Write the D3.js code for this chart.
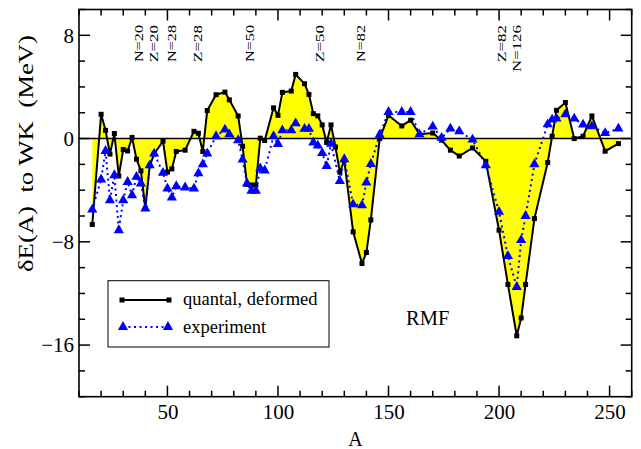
<!DOCTYPE html>
<html><head><meta charset="utf-8">
<script src="https://cdn.jsdelivr.net/npm/d3@7"></script>
<style>
body{margin:0;background:#fff;}
svg{display:block;}
svg text{font-family:"Liberation Serif","Times New Roman",serif !important;fill:#000;}
</style></head>
<body><div id="chart"></div>
<script>
// ---- data ----
const quantalA = [16,20,22,24,26,28,30,32,34,36,38,40,42,44,48,50,52,54,58,62,64,66,68,72,76,78,82,84,86,88,90,92,94,98,100,102,106,108,112,114,116,118,120,122,124,126,128,130,134,138,140,142,146,150,156,160,164,170,174,178,182,188,194,200,204,208,210,212,216,222,224,226,230,234,238,242,248,254];
const quantalE = [-6.66,1.88,0.64,-1.2,0.39,-2.9,-0.85,-0.96,0.08,-1.6,-2.5,-5.4,-2.1,-1.2,-0.2,-2.6,-2.35,-1.0,-0.9,0.56,0.41,-1.0,2.17,3.4,3.6,3.0,1.75,-0.6,-3.55,-3.6,-3.6,0.03,-0.15,2.38,1.8,3.58,3.68,4.97,4.25,3.42,1.93,1.76,1.06,-0.3,1.06,-0.65,-2.6,-1.7,-7.23,-9.68,-8.83,-6.3,0,1.8,0.98,1.42,0.33,0.43,-0.13,-0.9,-1.35,-0.73,-1.76,-7.1,-11.3,-15.28,-13.9,-11.3,-6.2,-1.86,0.18,2.19,2.79,0,0.18,1.75,-0.98,-0.39];
const expA = [16,20,22,24,26,28,30,32,34,36,38,40,42,44,48,50,52,54,58,62,64,66,68,72,76,78,82,84,86,88,90,92,94,98,100,102,106,108,112,114,116,118,120,122,124,128,130,134,138,140,142,146,150,156,160,164,170,174,178,182,188,194,200,204,208,210,212,216,222,224,226,230,234,238,242,248,254];
const expE = [-5.5,-3.17,-0.96,-4.78,-2.84,-7.1,-4.78,-3.36,-4.39,-2.97,-3.48,-5.42,-2.07,-1.16,-2.66,-3.87,-4.57,-3.69,-3.79,-3.87,-2.7,-2.0,-1.16,0.18,0.7,0.33,-0.13,-1.63,-3.48,-4.05,-4.05,-2.32,-2.47,0.18,-0.42,0.64,0.64,1.18,0.75,0.75,-0.3,-0.55,-1.13,-2.13,-0.4,-3.3,-1.6,-5.1,-5.18,-3.4,-1.97,0.3,2.06,2.06,2.06,0.33,0.93,0.05,0.77,0.56,-0.08,-2.07,-5.68,-9.1,-11.5,-7.87,-6.0,-1.99,1.1,1.47,1.55,1.88,1.55,1.08,0.95,0.43,0.77];
const xMajorTicks = [50,100,150,200,250];
const yMajorTicks = [-16,-8,0,8];
const shellLabels = ["N=20","Z=20","N=28","Z=28","N=50","Z=50","N=82","Z=82","N=126"];
const shellLabelA = [36.8,43.5,51.7,63.8,87.3,118.9,137.4,201,207.7];
const seriesNames = ["quantal, deformed","experiment"];

// ---- layout ----
const W = 641, H = 449;
const m = {left:79, right:641-631.7, top:9.5, bottom:449-396.7};
const iw = W - m.left - m.right, ih = H - m.top - m.bottom;
const SERIF = '"Liberation Serif","Times New Roman",serif';

const svg = d3.select("#chart").append("svg").attr("width",W).attr("height",H)
  .attr("font-family",SERIF);
const g = svg.append("g").attr("transform",`translate(${m.left},${m.top})`);

const x = d3.scaleLinear().domain([10,260]).range([0,iw]);
const y = d3.scaleLinear().domain([-20,10]).range([ih,0]);

const q = quantalA.map((a,i)=>({a, e:quantalE[i]}));
const ex = expA.map((a,i)=>({a, e:expE[i]}));

// fill to zero
g.append("path").datum(q)
  .attr("d", d3.area().x(d=>x(d.a)).y0(y(0)).y1(d=>y(d.e)))
  .attr("fill","#ffff00").attr("stroke","none");

// zero line
g.append("line").attr("x1",0).attr("x2",iw).attr("y1",y(0)).attr("y2",y(0))
  .attr("stroke","#000").attr("stroke-width",1.6);

// quantal line
g.append("path").datum(q)
  .attr("d", d3.line().x(d=>x(d.a)).y(d=>y(d.e)))
  .attr("fill","none").attr("stroke","#000").attr("stroke-width",2);
g.selectAll("rect.q").data(q).enter().append("rect").attr("class","q")
  .attr("x",d=>x(d.a)-2.5).attr("y",d=>y(d.e)-2.5).attr("width",5).attr("height",5).attr("fill","#000");

// experiment
g.append("path").datum(ex)
  .attr("d", d3.line().x(d=>x(d.a)).y(d=>y(d.e)))
  .attr("fill","none").attr("stroke","#0000ff").attr("stroke-width",2).attr("stroke-dasharray","2,3.5");
const tri = d3.symbol(d3.symbolTriangle, 45);
g.selectAll("path.t").data(ex).enter().append("path").attr("class","t")
  .attr("d",tri).attr("transform",d=>`translate(${x(d.a)},${y(d.e)})`).attr("fill","#0000ff");

// axes ticks
const xMinor = d3.range(10,261,10).filter(v=>!xMajorTicks.includes(v));
const yMinor = d3.range(-20,11,2).filter(v=>!yMajorTicks.includes(v));
function tickLines(vals, len, orient){
  vals.forEach(v=>{
    if(orient==="x"){
      g.append("line").attr("x1",x(v)).attr("x2",x(v)).attr("y1",ih).attr("y2",ih-len).attr("stroke","#000").attr("stroke-width",1.5);
      g.append("line").attr("x1",x(v)).attr("x2",x(v)).attr("y1",0).attr("y2",len).attr("stroke","#000").attr("stroke-width",1.5);
    } else {
      g.append("line").attr("y1",y(v)).attr("y2",y(v)).attr("x1",0).attr("x2",len).attr("stroke","#000").attr("stroke-width",1.5);
      g.append("line").attr("y1",y(v)).attr("y2",y(v)).attr("x1",iw).attr("x2",iw-len).attr("stroke","#000").attr("stroke-width",1.5);
    }
  });
}
tickLines(xMajorTicks,11,"x");
tickLines(xMinor,6,"x");
tickLines(yMajorTicks,11,"y");
tickLines(yMinor,6,"y");

// tick labels via d3 axes (no lines)
const xAxis = g.append("g").attr("transform",`translate(0,${ih})`)
  .call(d3.axisBottom(x).tickValues(xMajorTicks).tickSize(0).tickPadding(7).tickFormat(d3.format("d")));
xAxis.attr("font-family",SERIF).attr("font-size",21);
xAxis.select(".domain").remove();
xAxis.selectAll("text").style("font-family",SERIF).style("font-size","21px");
const yAxis = g.append("g")
  .call(d3.axisLeft(y).tickValues(yMajorTicks).tickSize(0).tickPadding(5).tickFormat(d3.format("d")));
yAxis.attr("font-family",SERIF).attr("font-size",21);
yAxis.select(".domain").remove();
yAxis.selectAll("text").style("font-family",SERIF).style("font-size","21px");

// frame
g.append("rect").attr("x",0).attr("y",0).attr("width",iw).attr("height",ih)
  .attr("fill","none").attr("stroke","#000").attr("stroke-width",1.6);

// shell labels
shellLabels.forEach((t,i)=>{
  const len = t.length===5 ? 47 : 37;
  g.append("text").attr("transform",`translate(${x(shellLabelA[i])+4.5},${25-m.top}) rotate(-90)`)
   .attr("text-anchor","end").style("font-family",SERIF).style("font-size","13px")
   .attr("textLength",len).attr("lengthAdjust","spacingAndGlyphs").text(t);
});

// axis titles
svg.append("text").attr("x",355.5).attr("y",446).attr("text-anchor","middle").style("font-size","20px").text("A");
svg.append("text").attr("transform","translate(32.5,153.5) rotate(-90)")
  .attr("text-anchor","middle").style("font-size","21px").style("white-space","pre")
  .attr("textLength",237).attr("lengthAdjust","spacingAndGlyphs")
  .text("\u03B4E(A)  to WK  (MeV)");

// RMF
svg.append("text").attr("x",406).attr("y",325).style("font-size","20.5px").text("RMF");

// legend
svg.append("rect").attr("x",108).attr("y",280.7).attr("width",221).attr("height",66.3)
  .attr("fill","#fff").attr("stroke","#000").attr("stroke-width",1);
svg.append("line").attr("x1",122).attr("x2",169).attr("y1",300).attr("y2",300).attr("stroke","#000").attr("stroke-width",2);
[122,169].forEach(px=>svg.append("rect").attr("x",px-2.5).attr("y",297.5).attr("width",5).attr("height",5).attr("fill","#000"));
svg.append("line").attr("x1",123).attr("x2",168).attr("y1",327).attr("y2",327).attr("stroke","#0000ff").attr("stroke-width",2).attr("stroke-dasharray","2,3.5");
[123,168].forEach(px=>svg.append("path").attr("d",tri).attr("transform",`translate(${px},327)`).attr("fill","#0000ff"));
svg.append("text").attr("x",183).attr("y",304.5).style("font-size","18.5px").text(seriesNames[0]);
svg.append("text").attr("x",183).attr("y",332.5).style("font-size","18.5px").text(seriesNames[1]);
</script></body></html>
